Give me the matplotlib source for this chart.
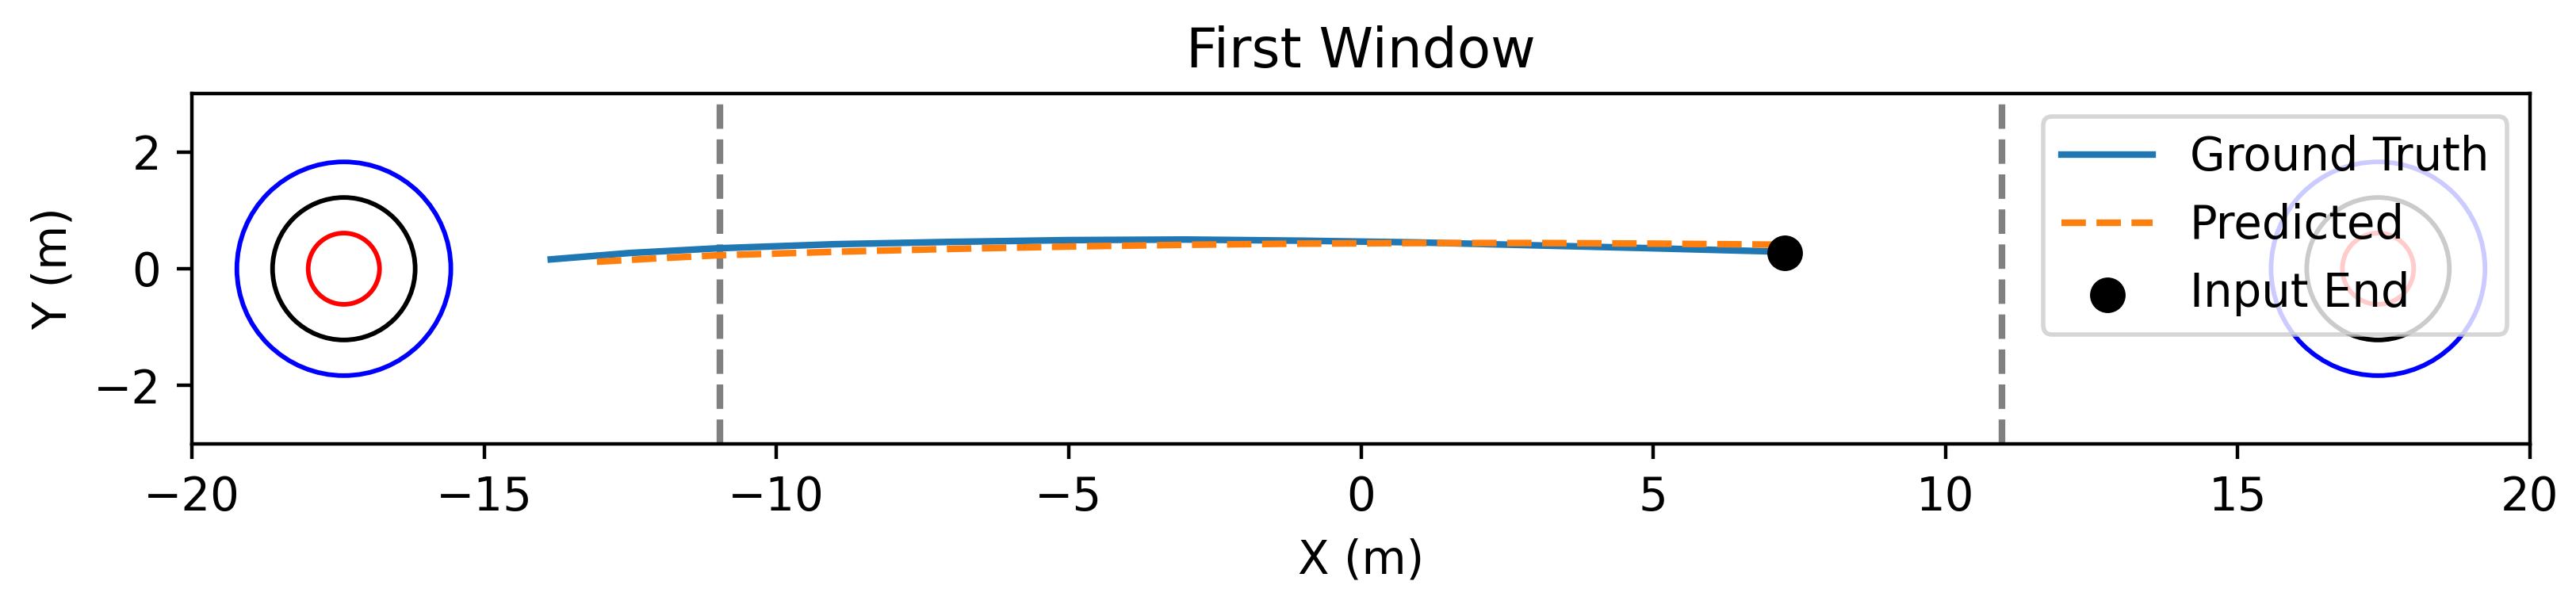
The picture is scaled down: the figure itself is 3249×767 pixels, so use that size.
import matplotlib
matplotlib.use("Agg")
import matplotlib.pyplot as plt
from matplotlib.patches import Circle

# Data
gt_x = [-13.86, -12.5, -11.0, -9.0, -7.0, -5.0, -3.0, -1.0, 1.0, 3.0, 5.0, 7.25]
gt_y = [0.16, 0.27, 0.35, 0.42, 0.46, 0.49, 0.50, 0.48, 0.45, 0.40, 0.35, 0.29]
pred_x = [-13.07, -12.0, -11.0, -9.0, -7.0, -5.0, -3.0, -1.0, 1.0, 3.0, 5.0, 7.38]
pred_y = [0.12, 0.18, 0.23, 0.29, 0.34, 0.38, 0.41, 0.43, 0.44, 0.44, 0.43, 0.41]
input_end = (7.25, 0.27)

house_centers = [-17.4, 17.4]
ring_radii = [1.83, 1.22, 0.61]
ring_colors = ['blue', 'black', 'red']
hog_lines = [-10.97, 10.97]

plt.rcParams['font.size'] = 10.4

W, H, DPI = 3249, 767, 400
fig = plt.figure(figsize=(W / DPI, H / DPI), dpi=DPI)
ax = fig.add_axes([242 / W, 207 / H, 2949 / W, 442 / H])

for cx in house_centers:
    for r, c in zip(ring_radii, ring_colors):
        ax.add_patch(Circle((cx, 0), r, fill=False, edgecolor=c, lw=1.05))

for hx in hog_lines:
    ax.axvline(hx, color='gray', linestyle='--')

ax.plot(gt_x, gt_y, color='#1f77b4', label='Ground Truth')
ax.plot(pred_x, pred_y, color='#ff7f0e', linestyle='--', label='Predicted')
ax.scatter([input_end[0]], [input_end[1]], color='black', s=50, zorder=5, label='Input End')

ax.set_xlim(-20, 20)
ax.set_ylim(-3, 3)
ax.set_xlabel('X (m)')
ax.set_ylabel('Y (m)')
ax.set_title('First Window')
ax.legend(loc='upper right')

fig.savefig('out.png', dpi=DPI)
